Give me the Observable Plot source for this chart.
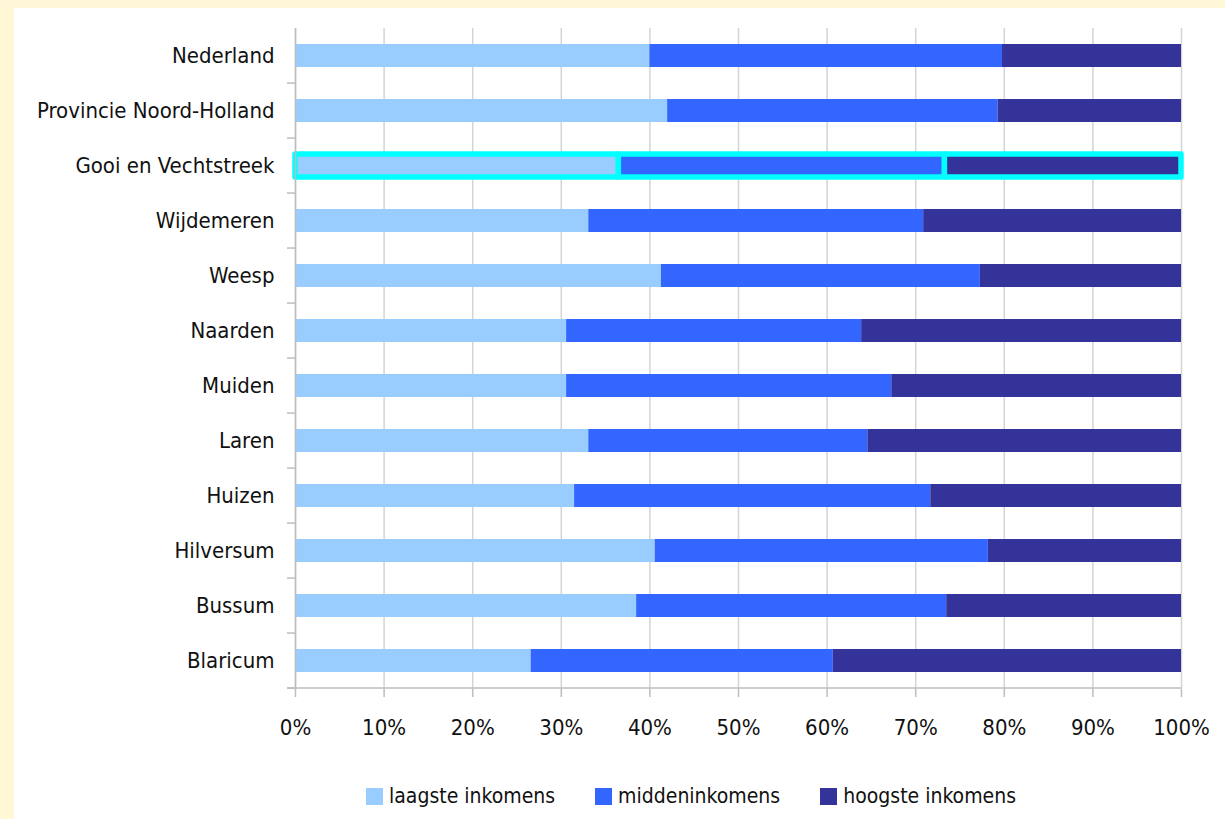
<!DOCTYPE html>
<html>
<head>
<meta charset="utf-8">
<script src="https://cdn.jsdelivr.net/npm/d3@7"></script>
<script src="https://cdn.jsdelivr.net/npm/@observablehq/plot@0.6"></script>
<style>
  html, body { margin: 0; padding: 0; }
  body { width: 1225px; height: 819px; background: #FFF7D6; position: relative; overflow: hidden;
         font-family: "Liberation Sans Narrow", "Arial Narrow", "DejaVu Sans Condensed", sans-serif; }
  #panel { position: absolute; left: 14px; top: 8px; right: 0; bottom: 0; background: #fff; }
  #chart { position: absolute; left: 0; top: 0; }
  #legend { position: absolute; left: 366px; top: 784px; display: flex; gap: 40px; font-size: 21px; color: #111; }
  #legend .item { display: flex; align-items: center; }
  #legend .sw { width: 17px; height: 17px; margin-right: 6px; }
</style>
</head>
<body>
<div id="panel"></div>
<div id="chart"></div>
<div id="legend"></div>
<script>
const regions = ["Nederland", "Provincie Noord-Holland", "Gooi en Vechtstreek", "Wijdemeren", "Weesp",
  "Naarden", "Muiden", "Laren", "Huizen", "Hilversum", "Bussum", "Blaricum"];
const series = ["laagste inkomens", "middeninkomens", "hoogste inkomens"];
const laagste = [40.0, 42.0, 36.5, 33.1, 41.3, 30.6, 30.6, 33.1, 31.5, 40.6, 38.5, 26.6];
const midden  = [39.8, 37.3, 36.8, 37.8, 36.0, 33.3, 36.7, 31.5, 40.2, 37.6, 35.0, 34.1];
const hoogste = [20.2, 20.7, 26.7, 29.1, 22.7, 36.1, 32.7, 35.4, 28.3, 21.8, 26.5, 39.3];
const xTicks = [0, 10, 20, 30, 40, 50, 60, 70, 80, 90, 100];
const colors = ["#99CCFF", "#3366FF", "#333399"];
const highlight = "Gooi en Vechtstreek";

const table = [];
regions.forEach((r, i) => {
  [laagste[i], midden[i], hoogste[i]].forEach((v, j) => table.push({region: r, series: series[j], value: v}));
});

const font = '"Liberation Sans Narrow", "Arial Narrow", "DejaVu Sans Condensed", sans-serif';

const plot = Plot.plot({
  width: 1225,
  height: 770,
  marginLeft: 295,
  marginRight: 44,
  marginTop: 28,
  marginBottom: 81,
  style: {background: "transparent", fontFamily: font, fontSize: "22px", color: "#111", overflow: "visible"},
  x: {domain: [0, 100], ticks: xTicks, label: null},
  y: {domain: regions, paddingInner: 0.58, paddingOuter: 0.29, label: null},
  color: {domain: series, range: colors},
  marks: [
    Plot.ruleX(xTicks, {stroke: "#D4D4D4", strokeWidth: 1.5}),
    Plot.barX(table, Plot.stackX({
      filter: d => d.region !== highlight,
      y: "region", x: "value", fill: "series", order: series
    })),
    Plot.barX(table, Plot.stackX({
      filter: d => d.region === highlight,
      y: "region", x: "value", fill: "series", order: series,
      stroke: "#00FFFF", strokeWidth: 5.5, strokeLinejoin: "round"
    })),
    Plot.axisX({ticks: xTicks, tickFormat: d => d + "%", tickSize: 8, tickPadding: 22, stroke: "#BDBDBD", strokeWidth: 1.5, fill: "#111", fontSize: 22, label: null}),
    Plot.axisY({tickSize: 0, tickPadding: 21, fill: "#111", fontSize: 22, label: null}),
    Plot.ruleX([0], {stroke: "#BDBDBD", strokeWidth: 1.5}),
  ]
});

// bottom axis line and category boundary ticks from the plot's own scales
const xs = plot.scale("x"), ys = plot.scale("y");
const svg = d3.select(plot.tagName === "svg" ? plot : plot.querySelector("svg"));
const x0 = xs.apply(0), x1 = xs.apply(100);
const yTop = ys.apply(regions[0]) - ys.step * ys.paddingOuter;
const boundaries = regions.map((r, i) => yTop + (i + 1) * ys.step);
svg.append("g").selectAll("line").data(boundaries).join("line")
  .attr("x1", x0 - 8).attr("x2", x0).attr("y1", d => d).attr("y2", d => d)
  .attr("stroke", "#BDBDBD").attr("stroke-width", 1.5);
svg.append("line").attr("x1", x0 - 8).attr("x2", x1).attr("y1", boundaries[boundaries.length - 1]).attr("y2", boundaries[boundaries.length - 1])
  .attr("stroke", "#BDBDBD").attr("stroke-width", 1.5);

document.getElementById("chart").appendChild(plot);

const legend = d3.select("#legend");
series.forEach((s, i) => {
  const it = legend.append("div").attr("class", "item");
  it.append("div").attr("class", "sw").style("background", colors[i]);
  it.append("span").text(s);
});
</script>
</body>
</html>
